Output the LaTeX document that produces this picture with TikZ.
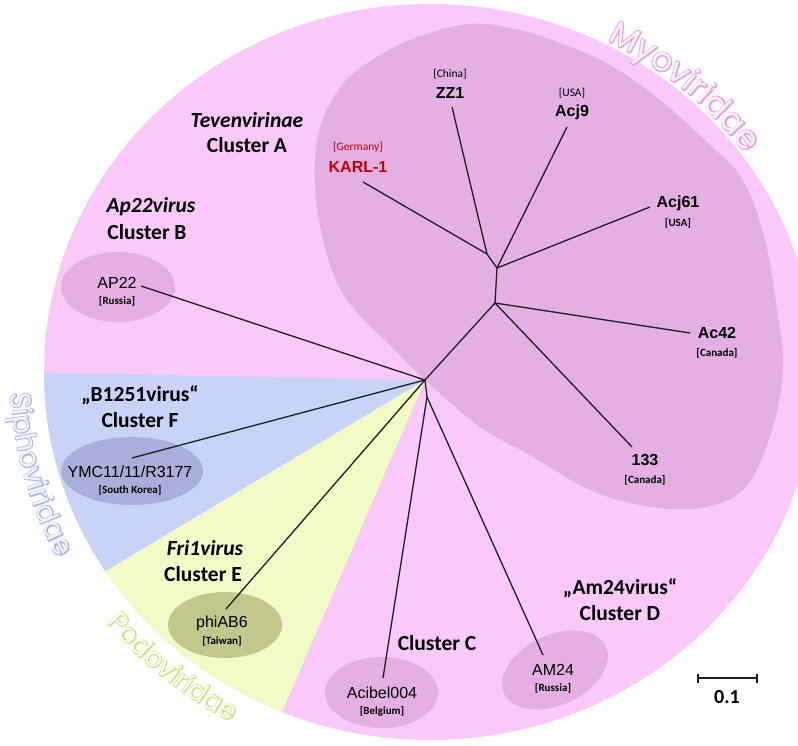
\documentclass[tikz,border=0pt]{standalone}
\usepackage{fontspec}
\setmainfont{Carlito}
\newfontfamily\arialf{Liberation Sans}
\newfontfamily\geof{Poppins}
\newfontfamily\geoboldf[FakeBold=7]{Poppins}
\usetikzlibrary{calc,decorations.text,arrows.meta}
\definecolor{pinkbg}{HTML}{FBC8FA}
\definecolor{darkpink}{HTML}{E4B0E4}
\definecolor{bluebg}{HTML}{C9D3F8}
\definecolor{yellowbg}{HTML}{F2FAC8}
\definecolor{ymcfill}{HTML}{A9AEDA}
\definecolor{phifill}{HTML}{C3C78E}
\definecolor{karlred}{HTML}{C00000}
\definecolor{myoline}{HTML}{E3A3E3}
\definecolor{myofill}{HTML}{FFF2FF}
\definecolor{sipholine}{HTML}{A9B6EC}
\definecolor{siphofill}{HTML}{F4F6FF}
\definecolor{podoline}{HTML}{D6DB8E}
\definecolor{podofill}{HTML}{FBFDEF}
\definecolor{treeline}{HTML}{1E1E1E}
\tikzset{
  leafb/.style={font=\arialf\bfseries\fontsize{16}{16}\selectfont, inner sep=0pt},
  leafr/.style={font=\arialf\fontsize{16}{16}\selectfont, inner sep=0pt},
  ctry/.style={font=\fontsize{11.5}{12}\selectfont, inner sep=0pt},
  ctryb/.style={font=\bfseries\fontsize{11}{12}\selectfont, inner sep=0pt},
  clab/.style={font=\bfseries\fontsize{21.5}{22}\selectfont, inner sep=0pt},
  clabit/.style={font=\bfseries\itshape\fontsize{21.5}{22}\selectfont, inner sep=0pt},
  branch/.style={draw=treeline, line width=1.3pt},
}
\begin{document}
\begin{tikzpicture}[x=1pt,y=1pt,line join=round]
\useasboundingbox (0,0) rectangle (798,-746);
\coordinate (C) at (430,-372);
\coordinate (H) at (425,-380);
% background disc and sectors
\fill[pinkbg] (C) ellipse [x radius=386pt, y radius=368pt];
\begin{scope}
  \clip (C) ellipse [x radius=386pt, y radius=368pt];
  \fill[bluebg] (H) -- ($(H)+(178.9:700pt)$) -- ($(H)+(210.9:700pt)$) -- cycle;
  \fill[yellowbg] (H) -- ($(H)+(210.9:700pt)$) -- ($(H)+(246.7:700pt)$) -- cycle;
\end{scope}
% cluster A region
\fill[darkpink] plot[smooth cycle, tension=0.6] coordinates {
  (470,-24) (520,-30) (560,-43) (610,-65) (660,-100) (710,-145) (743,-180)
  (765,-240) (777,-310) (783,-367) (772,-430) (745,-488) (700,-508) (645,-506)
  (590,-490) (530,-455) (480,-427) (423,-378) (390,-345) (362,-318) (338,-285)
  (322,-235) (315,-185) (318,-135) (335,-95) (360,-68) (410,-40)};
% small ellipses
\fill[darkpink] (118,-287) ellipse [x radius=57pt, y radius=35pt];
\fill[ymcfill] (132,-471) ellipse [x radius=71pt, y radius=34pt];
\fill[phifill] (225,-625) ellipse [x radius=57pt, y radius=33pt];
\fill[darkpink] (381.5,-692.5) ellipse [x radius=56.5pt, y radius=35.5pt];
\fill[darkpink, rotate around={25:(555,-670)}] (555,-670) ellipse [x radius=56pt, y radius=35pt];
% family labels (outline drawn first, fill on top)
\path[decorate, decoration={text along path,
  text={|\geoboldf\fontsize{33}{33}\selectfont\color{myoline}|Myoviridae}}]
  ($(C)+(63:390pt and 372pt)$) arc [start angle=63, end angle=15, x radius=390pt, y radius=372pt];
\path[decorate, decoration={text along path,
  text={|\geof\fontsize{33}{33}\selectfont\color{myofill}|Myoviridae}}]
  ($(C)+(63:390pt and 372pt)$) arc [start angle=63, end angle=15, x radius=390pt, y radius=372pt];
\path[decorate, decoration={text along path,
  text={|\geoboldf\fontsize{28}{28}\selectfont\color{sipholine}|Siphoviridae}}]
  ($(C)+(183:420pt and 402pt)$) arc [start angle=183, end angle=230, x radius=420pt, y radius=402pt];
\path[decorate, decoration={text along path,
  text={|\geof\fontsize{28}{28}\selectfont\color{siphofill}|Siphoviridae}}]
  ($(C)+(183:420pt and 402pt)$) arc [start angle=183, end angle=230, x radius=420pt, y radius=402pt];
\path[decorate, decoration={text along path,
  text={|\geoboldf\fontsize{27}{27}\selectfont\color{podoline}|Podoviridae}}]
  ($(C)+(219:416pt and 398pt)$) arc [start angle=219, end angle=260, x radius=416pt, y radius=398pt];
\path[decorate, decoration={text along path,
  text={|\geof\fontsize{27}{27}\selectfont\color{podofill}|Podoviridae}}]
  ($(C)+(219:416pt and 398pt)$) arc [start angle=219, end angle=260, x radius=416pt, y radius=398pt];
% tree
\coordinate (N1) at (427,-397);
\coordinate (N2) at (495,-303);
\coordinate (N3) at (497,-268);
\coordinate (N4) at (487,-254);
\coordinate (lKARL) at (363,-182);
\coordinate (lZZ1) at (452,-107);
\coordinate (lAcj9) at (567,-127);
\coordinate (lAcj61) at (650,-207);
\coordinate (lAc42) at (690,-333);
\coordinate (l133) at (632,-447);
\coordinate (lAM24) at (543,-655);
\coordinate (lAcibel) at (383,-678);
\coordinate (lPhi) at (226,-609);
\coordinate (lYMC) at (132,-458);
\coordinate (lAP22) at (141,-286);
\draw[branch] (H) -- (N1);
\draw[branch] (H) -- (N2);
\draw[branch] (N2) -- (N3);
\draw[branch] (N3) -- (N4);
\draw[branch] (N4) -- (lKARL);
\draw[branch] (N4) -- (lZZ1);
\draw[branch] (N3) -- (lAcj9);
\draw[branch] (N3) -- (lAcj61);
\draw[branch] (N2) -- (lAc42);
\draw[branch] (N2) -- (l133);
\draw[branch] (N1) -- (lAcibel);
\draw[branch] (N1) -- (lAM24);
\draw[branch] (H) -- (lAP22);
\draw[branch] (H) -- (lYMC);
\draw[branch] (H) -- (lPhi);
% leaf labels
\node[ctry, text=karlred] (tGer) at (358,-147) {[Germany]};
\node[leafb, text=karlred] (tKARL) at (358,-167) {KARL-1};
\node[ctry] (tChina) at (450,-74) {[China]};
\node[leafb] (tZZ1) at (450,-93) {ZZ1};
\node[ctry] (tUSA1) at (572,-93) {[USA]};
\node[leafb] (tAcj9) at (572,-112) {Acj9};
\node[leafb] (tAcj61) at (678,-203) {Acj61};
\node[ctryb] (tUSA2) at (678,-223) {[USA]};
\node[leafb] (tAc42) at (717,-333) {Ac42};
\node[ctryb] (tCan1) at (717,-353) {[Canada]};
\node[leafb] (t133) at (645,-460) {133};
\node[ctryb] (tCan2) at (645,-480) {[Canada]};
\node[leafr] (tAP22) at (117,-283) {AP22};
\node[ctryb] (tRus1) at (117,-301) {[Russia]};
\node[leafr] (tYMC) at (130,-472) {YMC11/11/R3177};
\node[ctryb] (tKor) at (130,-490) {[South Korea]};
\node[leafr] (tPhi) at (222,-623) {phiAB6};
\node[ctryb] (tTai) at (222,-641) {[Taiwan]};
\node[leafr] (tAcibel) at (382,-693) {Acibel004};
\node[ctryb] (tBel) at (382,-711) {[Belgium]};
\node[leafr] (tAM24) at (553,-670) {AM24};
\node[ctryb] (tRus2) at (553,-688) {[Russia]};
% cluster labels
\node[clabit] (gA) at (247,-120) {Tevenvirinae};
\node[clab] (cA) at (247,-145) {Cluster A};
\node[clabit] (gB) at (151,-207) {Ap22virus};
\node[clab] (cB) at (147,-232) {Cluster B};
\node[clab] (gF) at (140,-395) {„B1251virus“};
\node[clab] (cF) at (140,-420) {Cluster F};
\node[clabit] (gE) at (205,-548) {Fri1virus};
\node[clab] (cE) at (203,-574) {Cluster E};
\node[clab] (cC) at (437,-643) {Cluster C};
\node[clab] (gD) at (620,-588) {„Am24virus“};
\node[clab] (cD) at (620,-613) {Cluster D};
% scale bar
\coordinate (sb1) at (697,-678);
\coordinate (sb2) at (758,-678);
\draw[line width=1.6pt, draw=treeline, {Bar[width=9pt]}-{Bar[width=9pt]}] (sb1) -- (sb2);
\node[font=\bfseries\fontsize{20}{20}\selectfont, inner sep=0pt] (sbl) at (727,-697) {0.1};
\end{tikzpicture}
\end{document}
